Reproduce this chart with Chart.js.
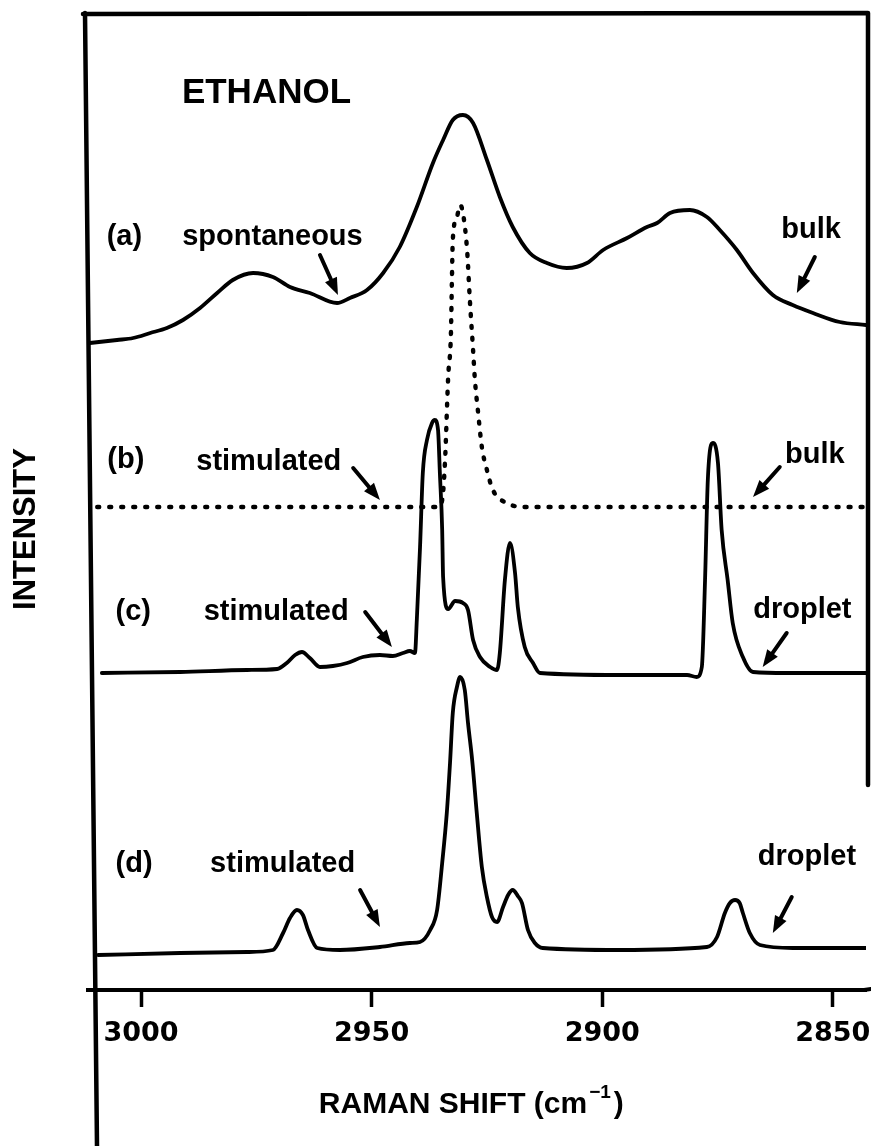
<!DOCTYPE html>
<html>
<head>
<meta charset="utf-8">
<title>Ethanol Raman spectra</title>
<script src="https://cdn.jsdelivr.net/npm/chart.js@4.4.1/dist/chart.umd.min.js"></script>
<style>
  html, body { margin: 0; padding: 0; background: #fff; }
  #wrap { width: 871px; height: 1146px; }
</style>
</head>
<body>
<div id="wrap"><canvas id="spectra" width="871" height="1146"></canvas></div>
<script>
// Raman shift axis (cm^-1), drawn high -> low from left to right
const X_MIN = 2842.8;
const X_MAX = 3011.5;
const tickValues = [3000, 2950, 2900, 2850];

// intensities are arbitrary units, 0 = axis line, 975 = top of frame
// each point is [raman shift, intensity]
const spontBulk = [
  [3011.1, 647], [3005.2, 650], [3001.7, 652], [2998.0, 657], [2994.4, 662],
  [2990.9, 670], [2987.2, 682], [2983.5, 697], [2980.1, 710], [2975.7, 717],
  [2971.4, 713], [2967.7, 703], [2963.4, 697], [2957.5, 687], [2954.7, 692],
  [2951.0, 700], [2947.5, 717], [2943.9, 743], [2940.2, 783], [2936.7, 827],
  [2934.5, 850], [2932.4, 870], [2930.2, 875], [2928.0, 867], [2925.0, 830],
  [2922.2, 793], [2919.4, 763], [2915.7, 737], [2912.0, 727], [2907.7, 722],
  [2903.3, 727], [2899.8, 740], [2894.6, 752], [2890.3, 763], [2888.1, 767],
  [2885.3, 777], [2881.0, 780], [2877.3, 773], [2874.5, 760], [2870.8, 740],
  [2867.3, 717], [2863.0, 695], [2858.7, 685], [2854.3, 677], [2848.5, 668],
  [2842.8, 665],
];

const stimBulk = [
  [3009.5, 483], [2935.6, 483], [2934.7, 490], [2934.1, 527], [2933.4, 613],
  [2932.8, 657], [2932.6, 707], [2932.4, 750], [2931.5, 773], [2930.8, 785],
  [2930.2, 777], [2929.3, 740], [2928.7, 690], [2928.0, 640], [2927.6, 610],
  [2926.9, 577], [2926.1, 543], [2925.0, 520], [2923.7, 500], [2920.7, 487],
  [2916.8, 483], [2842.8, 483],
];

const stimDropletC = [
  [3008.5, 317], [2991.5, 318], [2977.0, 320], [2970.5, 321], [2968.4, 327],
  [2966.6, 335], [2965.1, 338], [2963.4, 332], [2961.2, 323], [2958.4, 324],
  [2955.3, 327], [2951.9, 333], [2948.2, 335], [2945.4, 334], [2943.2, 337],
  [2941.7, 339], [2940.6, 337], [2940.2, 370], [2939.5, 443], [2938.9, 517],
  [2938.0, 550], [2936.9, 567], [2936.3, 570], [2935.6, 560], [2935.2, 517],
  [2934.7, 460], [2934.5, 413], [2933.4, 381], [2931.9, 389], [2930.2, 387],
  [2929.1, 380], [2928.0, 350], [2926.5, 333], [2924.3, 323], [2922.8, 320],
  [2922.2, 337], [2921.1, 410], [2920.0, 447], [2918.9, 417], [2918.3, 383],
  [2916.8, 343], [2915.0, 327], [2913.5, 317], [2896.2, 315], [2881.6, 315],
  [2879.5, 313], [2878.4, 323], [2877.7, 410], [2877.1, 510], [2876.0, 547],
  [2874.9, 527], [2874.1, 460], [2872.8, 410], [2871.7, 367], [2869.5, 333],
  [2867.3, 318], [2860.0, 317], [2842.8, 317],
];

const stimDropletD = [
  [3009.3, 35], [2991.5, 37], [2977.0, 38], [2971.4, 40], [2969.2, 57],
  [2967.7, 72], [2966.2, 80], [2964.9, 75], [2963.8, 60], [2961.8, 42],
  [2956.9, 40], [2948.2, 43], [2941.7, 47], [2939.5, 48], [2937.3, 60],
  [2935.8, 80], [2934.7, 127], [2933.7, 177], [2933.0, 227], [2932.4, 277],
  [2931.5, 303], [2930.8, 313], [2929.8, 300], [2929.1, 267], [2928.2, 230],
  [2927.2, 177], [2926.1, 123], [2925.0, 93], [2923.9, 73], [2922.8, 68],
  [2921.5, 83], [2920.4, 95], [2919.4, 100], [2918.3, 94], [2917.4, 87],
  [2916.1, 60], [2914.6, 47], [2912.9, 42], [2896.2, 40], [2877.3, 43],
  [2875.1, 53], [2873.4, 77], [2872.3, 87], [2871.2, 90], [2870.2, 87],
  [2869.5, 77], [2868.0, 57], [2865.8, 45], [2858.7, 42], [2842.8, 42],
];

// text labels inside the plot, centred at [shift, baseline intensity]
const labelTexts = ['(a)', 'spontaneous', 'bulk', '(b)', 'stimulated', 'bulk',
  '(c)', 'stimulated', 'droplet', '(d)', 'stimulated', 'droplet'];
const labelShift = [3003.6, 2971.5, 2854.7, 3003.3, 2972.3, 2853.9,
  3001.7, 2970.7, 2856.6, 3001.5, 2969.3, 2855.6];
const labelInt = [745, 745, 752, 522, 520, 527, 370, 370, 372, 118, 118, 125];

// arrows: tail -> head
const arrowFrom = [[2961.2, 735], [2853.9, 733], [2954.0, 522], [2861.5, 523],
  [2951.4, 378], [2860.0, 357], [2952.5, 100], [2858.9, 93]];
const arrowTo = [[2957.3, 695], [2857.8, 697], [2948.2, 490], [2867.3, 493],
  [2945.6, 343], [2865.2, 323], [2948.2, 63], [2863.0, 57]];

const titleText = 'ETHANOL';
const titlePos = [2972.8, 887];
const yTitle = 'INTENSITY';
const yTitlePos = [3024.9, 461];
const xTitle = 'RAMAN SHIFT (cm';
const xTitleSup = '\u22121';
const xTitlePos = [2928.6, -123];

const SANS = '"Liberation Sans", Arial, Helvetica, sans-serif';

function toPoints(pairs) {
  return pairs.map(([x, y]) => ({ x, y }));
}

function drawArrow(ctx, x1, y1, x2, y2) {
  const ang = Math.atan2(y2 - y1, x2 - x1);
  const head = 17, half = 6.5;
  const bx = x2 - head * Math.cos(ang);
  const by = y2 - head * Math.sin(ang);
  ctx.lineWidth = 4;
  ctx.beginPath();
  ctx.moveTo(x1, y1);
  ctx.lineTo(bx, by);
  ctx.stroke();
  ctx.beginPath();
  ctx.moveTo(x2, y2);
  ctx.lineTo(bx + half * Math.sin(ang), by - half * Math.cos(ang));
  ctx.lineTo(bx - half * Math.sin(ang), by + half * Math.cos(ang));
  ctx.closePath();
  ctx.fill();
}

const annotate = {
  id: 'annotate',
  afterDraw(chart) {
    const { ctx, chartArea, scales: { x, y } } = chart;
    ctx.save();
    ctx.fillStyle = '#000';
    ctx.strokeStyle = '#000';
    ctx.lineCap = 'round';

    // frame: top, slightly slanted left edge, broken right edge
    ctx.lineWidth = 4.5;
    ctx.beginPath();
    ctx.moveTo(chartArea.left - 5, chartArea.top - 1);
    ctx.lineTo(chartArea.right + 2, chartArea.top - 2);
    ctx.moveTo(chartArea.left - 3, chartArea.top - 2);
    ctx.lineTo(chartArea.left + 9, chart.height);
    ctx.moveTo(chartArea.right + 2, chartArea.top - 2);
    ctx.lineTo(chartArea.right + 2, y.getPixelForValue(205));
    ctx.stroke();
    // axis line runs on to the edge
    ctx.lineWidth = 4;
    ctx.beginPath();
    ctx.moveTo(chartArea.right - 2, chartArea.bottom);
    ctx.lineTo(chart.width, chartArea.bottom - 1);
    ctx.stroke();

    ctx.textBaseline = 'alphabetic';
    ctx.textAlign = 'center';

    ctx.font = 'bold 35px ' + SANS;
    ctx.fillText(titleText, x.getPixelForValue(titlePos[0]), y.getPixelForValue(titlePos[1]));

    ctx.font = 'bold 29px ' + SANS;
    labelTexts.forEach((t, i) => {
      ctx.fillText(t, x.getPixelForValue(labelShift[i]), y.getPixelForValue(labelInt[i]));
    });

    arrowFrom.forEach((p, i) => {
      const q = arrowTo[i];
      drawArrow(ctx, x.getPixelForValue(p[0]), y.getPixelForValue(p[1]),
        x.getPixelForValue(q[0]), y.getPixelForValue(q[1]));
    });

    // x axis title with superscript
    ctx.textAlign = 'left';
    const mainFont = 'bold 30px ' + SANS;
    const supFont = 'bold 19px ' + SANS;
    ctx.font = mainFont;
    const w1 = ctx.measureText(xTitle).width;
    const w3 = ctx.measureText(')').width;
    ctx.font = supFont;
    const w2 = ctx.measureText(xTitleSup).width + 3;
    let tx = x.getPixelForValue(xTitlePos[0]) - (w1 + w2 + w3) / 2;
    const ty = y.getPixelForValue(xTitlePos[1]);
    ctx.font = mainFont;
    ctx.fillText(xTitle, tx, ty);
    tx += w1 + 2;
    ctx.font = supFont;
    ctx.fillText(xTitleSup, tx, ty - 15);
    tx += w2;
    ctx.font = mainFont;
    ctx.fillText(')', tx, ty);

    // y axis title
    ctx.save();
    ctx.translate(x.getPixelForValue(yTitlePos[0]), y.getPixelForValue(yTitlePos[1]));
    ctx.rotate(-Math.PI / 2);
    ctx.textAlign = 'center';
    ctx.textBaseline = 'middle';
    ctx.font = 'bold 31px ' + SANS;
    ctx.fillText(yTitle, 0, 0);
    ctx.restore();

    ctx.restore();
  },
};

const lineStyle = {
  borderColor: '#000',
  borderWidth: 3.8,
  pointRadius: 0,
  fill: false,
  cubicInterpolationMode: 'monotone',
  borderJoinStyle: 'round',
  borderCapStyle: 'round',
};

new Chart(document.getElementById('spectra'), {
  type: 'line',
  data: {
    datasets: [
      { label: '(a) spontaneous, bulk', data: toPoints(spontBulk), ...lineStyle },
      { label: '(b) stimulated, bulk', data: toPoints(stimBulk), ...lineStyle,
        borderWidth: 4.4, borderDash: [2, 10] },
      { label: '(c) stimulated, droplet', data: toPoints(stimDropletC), ...lineStyle },
      { label: '(d) stimulated, droplet', data: toPoints(stimDropletD), ...lineStyle },
    ],
  },
  options: {
    responsive: false,
    animation: false,
    layout: { padding: { left: 88, right: 5, top: 15, bottom: 96 } },
    plugins: {
      legend: { display: false },
      tooltip: { enabled: false },
    },
    scales: {
      x: {
        type: 'linear',
        reverse: true,
        min: X_MIN,
        max: X_MAX,
        afterBuildTicks: (axis) => {
          axis.ticks = tickValues.map((v) => ({ value: v }));
        },
        afterFit: (axis) => {
          axis.paddingLeft = 0;
          axis.paddingRight = 0;
          axis.height = 60;
        },
        ticks: {
          color: '#000',
          font: { family: '"DejaVu Sans", sans-serif', size: 27, weight: 'bold' },
          padding: 11,
          maxRotation: 0,
          autoSkip: false,
          callback: (v) => String(v),
        },
        grid: {
          display: true,
          drawOnChartArea: false,
          drawTicks: true,
          tickLength: 17,
          tickWidth: 3.5,
          tickColor: '#000',
        },
        border: { display: true, color: '#000', width: 4 },
      },
      y: {
        type: 'linear',
        min: 0,
        max: 975,
        display: false,
      },
    },
  },
  plugins: [annotate],
});
</script>
</body>
</html>
